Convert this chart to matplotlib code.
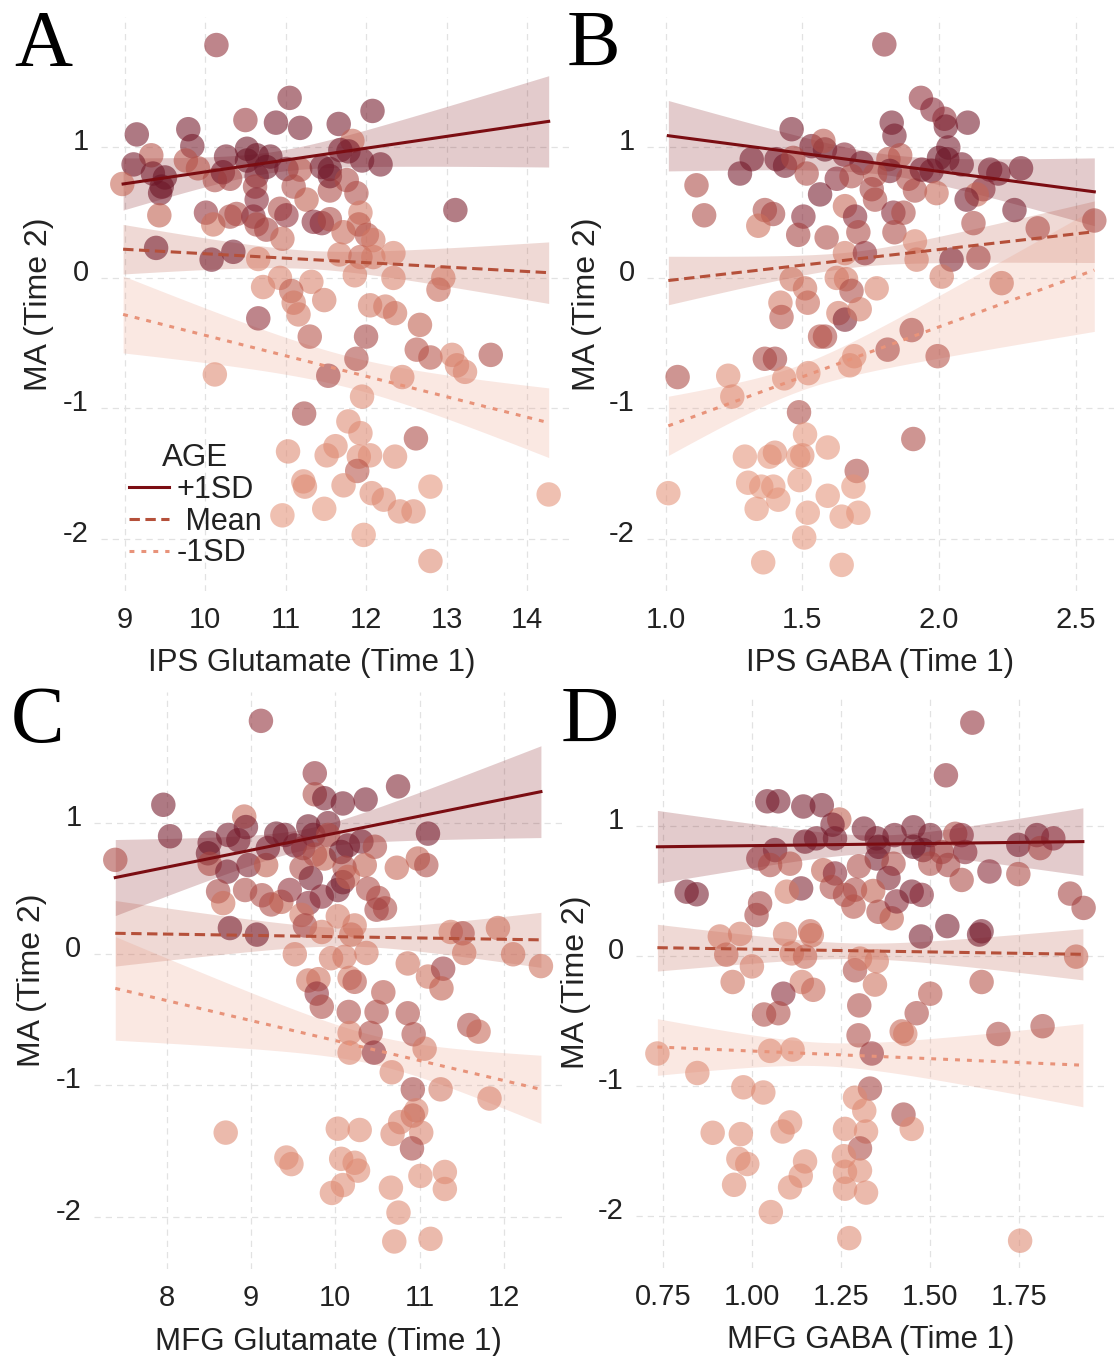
import numpy as np
import matplotlib
matplotlib.use('Agg')
import matplotlib.pyplot as plt
from matplotlib.colors import LinearSegmentedColormap
from matplotlib.lines import Line2D
from matplotlib.transforms import ScaledTranslation

# ---------------- data ----------------
# Panel A: IPS Glutamate (Time 1) vs MA (Time 2); age level 0 (young) .. 1 (old)
A_x = [10.14, 11.05, 12.08, 10.50, 10.88, 11.18, 11.66, 9.15, 9.79, 11.83, 9.33, 9.11, 9.84, 9.76, 9.91,
       10.26, 10.52, 10.64, 10.81, 10.52, 10.76, 11.01, 11.18, 11.45, 11.55, 11.68, 11.78, 11.95, 12.18,
       8.97, 9.35, 9.50, 9.44, 9.46, 9.43, 10.12, 10.22, 10.31, 10.64, 10.62, 10.64, 11.10, 11.26, 11.55,
       11.55, 11.76, 11.88, 11.93, 10.01, 10.10, 10.31, 10.39, 10.60, 10.64, 10.76, 10.93, 11.01, 10.96,
       11.35, 11.45, 11.55, 11.72, 11.91, 12.01, 12.09, 13.11, 9.39, 10.08, 10.35, 10.66, 11.67, 11.93,
       12.09, 12.34, 11.86, 12.34, 12.96, 12.90, 10.72, 10.93, 11.32, 11.07, 11.10, 11.48, 12.05, 12.24,
       12.36, 10.66, 11.16, 12.67, 11.30, 12.63, 12.80, 13.07, 13.13, 13.23, 13.55, 10.12, 11.53, 11.88,
       12.00, 12.45, 11.95, 11.23, 11.78, 11.93, 12.62, 11.03, 11.51, 11.62, 11.91, 12.05, 12.36, 11.89,
       11.22, 11.24, 11.72, 12.80, 12.07, 12.22, 12.42, 12.59, 11.48, 10.96, 11.97, 12.80, 14.27]
A_ma = [1.785, 1.38, 1.28, 1.21, 1.19, 1.15, 1.18, 1.10, 1.14, 1.05, 0.94, 0.87, 1.01, 0.90, 0.84,
        0.93, 0.99, 0.94, 0.93, 0.90, 0.85, 0.835, 0.83, 0.85, 0.835, 0.98, 0.97, 0.90, 0.87,
        0.72, 0.80, 0.77, 0.65, 0.70, 0.48, 0.75, 0.81, 0.76, 0.78, 0.70, 0.60, 0.70, 0.60, 0.67,
        0.78, 0.75, 0.65, 0.50, 0.50, 0.41, 0.47, 0.49, 0.47, 0.41, 0.37, 0.53, 0.48, 0.30,
        0.43, 0.42, 0.45, 0.35, 0.41, 0.33, 0.29, 0.52, 0.23, 0.14, 0.20, 0.145, 0.18, 0.16,
        0.16, 0.19, 0.02, 0.00, 0.00, -0.09, -0.07, 0.00, -0.03, -0.10, -0.19, -0.17, -0.21, -0.22,
        -0.27, -0.31, -0.28, -0.36, -0.45, -0.55, -0.61, -0.59, -0.67, -0.72, -0.59, -0.74, -0.75, -0.62,
        -0.45, -0.76, -0.91, -1.04, -1.10, -1.19, -1.23, -1.33, -1.36, -1.29, -1.37, -1.36, -1.37, -1.48,
        -1.56, -1.60, -1.59, -1.60, -1.65, -1.70, -1.79, -1.79, -1.77, -1.82, -1.97, -2.17, -1.66]
A_age = [0.7, 0.8, 0.85, 0.65, 0.85, 0.85, 0.85, 0.85, 0.85, 0.4, 0.5, 0.85, 0.85, 0.5, 0.5,
         0.85, 0.9, 0.9, 0.9, 0.9, 0.9, 0.85, 0.5, 0.85, 0.9, 0.85, 0.85, 0.85, 0.85,
         0.4, 0.85, 0.9, 0.85, 0.9, 0.45, 0.55, 0.85, 0.6, 0.85, 0.6, 0.75, 0.55, 0.45, 0.55,
         0.85, 0.55, 0.55, 0.3, 0.7, 0.35, 0.55, 0.55, 0.75, 0.55, 0.6, 0.55, 0.7, 0.4,
         0.75, 0.75, 0.55, 0.4, 0.45, 0.5, 0.3, 0.8, 0.85, 0.85, 0.85, 0.25, 0.3, 0.4,
         0.3, 0.25, 0.25, 0.25, 0.3, 0.4, 0.25, 0.25, 0.25, 0.45, 0.3, 0.3, 0.3, 0.3,
         0.35, 0.7, 0.3, 0.45, 0.5, 0.5, 0.5, 0.25, 0.25, 0.25, 0.55, 0.2, 0.6, 0.55,
         0.6, 0.25, 0.2, 0.6, 0.2, 0.2, 0.55, 0.2, 0.2, 0.2, 0.2, 0.2, 0.2, 0.5,
         0.2, 0.2, 0.2, 0.15, 0.2, 0.2, 0.2, 0.2, 0.15, 0.15, 0.15, 0.2, 0.15]

# Panel B: IPS GABA (Time 1)
B_x = [1.80, 1.934, 1.976, 2.02, 2.105, 2.025, 1.827, 1.837, 1.461, 2.034, 2.03, 2.00, 2.083, 1.583, 1.534,
       1.577, 1.654, 1.717, 1.815, 1.858, 1.82, 1.766, 1.315, 1.272, 1.406, 1.437, 1.467, 1.516, 1.626,
       1.68, 1.754, 1.766, 1.888, 1.912, 1.937, 1.973, 1.991, 2.187, 2.217, 2.30, 2.162, 2.138, 2.101,
       1.113, 1.141, 1.565, 1.363, 1.393, 1.339, 1.504, 1.485, 1.589, 1.656, 1.693, 1.705, 1.833, 1.87,
       1.837, 2.126, 2.276, 2.361, 2.568, 1.912, 1.918, 2.046, 2.144, 2.01, 2.229, 1.656, 1.729, 1.626,
       1.66, 1.68, 1.772, 1.461, 1.51, 1.52, 1.42, 1.424, 1.632, 1.656, 1.71, 1.583, 1.565, 1.363, 1.40,
       1.044, 1.229, 1.244, 1.434, 1.522, 1.674, 1.69, 1.812, 1.90, 1.995, 1.488, 1.51, 1.593, 1.29,
       1.38, 1.40, 1.485, 1.50, 1.906, 1.699, 1.687, 1.302, 1.35, 1.394, 1.412, 1.333, 1.49, 1.593,
       1.52, 1.644, 1.705, 1.507, 1.357, 1.644, 1.01]
B_ma = [1.79, 1.38, 1.29, 1.22, 1.19, 1.16, 1.19, 1.09, 1.14, 1.00, 0.91, 0.92, 0.87, 0.985, 1.01,
        1.05, 0.945, 0.88, 0.91, 0.94, 0.82, 0.79, 0.91, 0.80, 0.91, 0.86, 0.92, 0.80, 0.76,
        0.78, 0.68, 0.60, 0.76, 0.67, 0.83, 0.82, 0.65, 0.83, 0.80, 0.84, 0.68, 0.64, 0.60,
        0.71, 0.48, 0.64, 0.52, 0.49, 0.40, 0.47, 0.33, 0.31, 0.55, 0.47, 0.35, 0.50, 0.50,
        0.35, 0.42, 0.52, 0.38, 0.44, 0.28, 0.14, 0.14, 0.155, 0.01, -0.04, 0.19, 0.19, 0.00,
        -0.01, -0.10, -0.08, -0.01, -0.08, -0.19, -0.19, -0.30, -0.27, -0.32, -0.24, -0.45, -0.45, -0.62, -0.62,
        -0.76, -0.75, -0.91, -0.77, -0.73, -0.67, -0.60, -0.55, -0.40, -0.60, -1.03, -1.20, -1.30, -1.37,
        -1.37, -1.34, -1.37, -1.36, -1.235, -1.48, -1.60, -1.57, -1.60, -1.60, -1.70, -1.77, -1.55, -1.67,
        -1.80, -1.83, -1.80, -1.99, -2.18, -2.20, -1.65]
B_age = [0.7, 0.7, 0.75, 0.7, 0.85, 0.85, 0.85, 0.85, 0.85, 0.85, 0.9, 0.9, 0.85, 0.9, 0.85,
         0.5, 0.75, 0.85, 0.5, 0.5, 0.85, 0.5, 0.85, 0.85, 0.85, 0.85, 0.55, 0.55, 0.75,
         0.55, 0.6, 0.55, 0.55, 0.55, 0.85, 0.85, 0.4, 0.85, 0.85, 0.85, 0.75, 0.4, 0.85,
         0.55, 0.55, 0.85, 0.55, 0.6, 0.35, 0.75, 0.6, 0.55, 0.4, 0.75, 0.55, 0.75, 0.55,
         0.55, 0.55, 0.85, 0.55, 0.55, 0.25, 0.3, 0.8, 0.6, 0.3, 0.35, 0.3, 0.7, 0.3,
         0.3, 0.55, 0.25, 0.35, 0.35, 0.4, 0.3, 0.5, 0.3, 0.8, 0.3, 0.55, 0.5, 0.55, 0.6,
         0.55, 0.2, 0.2, 0.2, 0.2, 0.2, 0.2, 0.55, 0.55, 0.5, 0.55, 0.15, 0.15, 0.15,
         0.15, 0.2, 0.15, 0.2, 0.55, 0.55, 0.15, 0.15, 0.15, 0.15, 0.15, 0.15, 0.15, 0.15,
         0.15, 0.15, 0.15, 0.15, 0.15, 0.15, 0.15]

# Panel C: MFG Glutamate (Time 1)
C_x = [9.118, 9.757, 10.745, 7.96, 9.757, 9.87, 10.09, 10.36, 8.92, 8.94, 8.04, 8.73, 8.85, 8.51, 8.49,
       8.51, 8.72, 8.97, 9.18, 9.30, 9.20, 9.40, 9.52, 9.68, 9.74, 9.915, 9.915, 9.62, 9.76, 9.87,
       9.60, 9.71, 10.07, 10.15, 10.31, 10.47, 10.35, 10.11, 10.73, 10.98, 11.10, 11.08, 7.39, 8.61,
       8.67, 8.93, 9.13, 9.24, 9.36, 9.46, 9.68, 9.84, 10.03, 10.09, 10.15, 10.39, 10.51, 10.59, 10.49,
       9.60, 9.64, 10.03, 9.84, 10.23, 10.19, 8.75, 9.07, 11.37, 11.51, 11.93, 11.53, 12.11, 12.44,
       9.52, 9.95, 10.11, 10.37, 9.68, 9.80, 10.17, 10.23, 10.86, 11.10, 11.28, 11.26, 10.57, 9.78,
       9.84, 10.16, 10.49, 10.86, 11.59, 11.70, 10.17, 10.42, 10.93, 11.06, 10.17, 10.46, 10.67, 10.92,
       11.25, 11.83, 10.96, 10.92, 10.77, 10.68, 11.02, 10.91, 8.70, 9.42, 9.48, 10.03, 10.29, 10.07,
       10.23, 10.27, 10.09, 9.96, 10.66, 11.01, 11.30, 11.30, 10.75, 10.70, 11.13]
C_ma = [1.78, 1.38, 1.28, 1.14, 1.22, 1.19, 1.15, 1.18, 1.05, 0.97, 0.90, 0.91, 0.87, 0.85, 0.77,
        0.69, 0.63, 0.68, 0.68, 0.92, 0.81, 0.91, 0.83, 0.975, 0.91, 1.00, 0.91, 0.81, 0.76, 0.73,
        0.66, 0.58, 0.78, 0.83, 0.86, 0.82, 0.68, 0.66, 0.66, 0.73, 0.92, 0.68, 0.72, 0.48,
        0.39, 0.49, 0.45, 0.38, 0.40, 0.49, 0.39, 0.44, 0.49, 0.55, 0.59, 0.50, 0.43, 0.35, 0.34,
        0.30, 0.22, 0.29, 0.17, 0.22, 0.15, 0.20, 0.15, 0.17, 0.16, 0.20, 0.01, 0.00, -0.09,
        0.00, -0.03, -0.02, 0.01, -0.20, -0.19, -0.18, -0.21, -0.07, -0.17, -0.11, -0.26, -0.29, -0.30,
        -0.40, -0.44, -0.44, -0.45, -0.54, -0.59, -0.60, -0.60, -0.61, -0.72, -0.75, -0.75, -0.90, -1.03,
        -1.03, -1.10, -1.19, -1.23, -1.28, -1.37, -1.36, -1.48, -1.36, -1.55, -1.60, -1.33, -1.34, -1.56,
        -1.59, -1.65, -1.76, -1.82, -1.78, -1.69, -1.66, -1.79, -1.97, -2.19, -2.17]
C_age = [0.7, 0.7, 0.8, 0.85, 0.55, 0.85, 0.85, 0.85, 0.4, 0.85, 0.85, 0.85, 0.85, 0.85, 0.9,
         0.55, 0.85, 0.8, 0.45, 0.9, 0.85, 0.85, 0.85, 0.9, 0.85, 0.85, 0.55, 0.7, 0.55, 0.45,
         0.55, 0.85, 0.9, 0.85, 0.85, 0.55, 0.45, 0.55, 0.4, 0.45, 0.85, 0.55, 0.55, 0.6,
         0.35, 0.55, 0.55, 0.55, 0.45, 0.7, 0.75, 0.75, 0.85, 0.85, 0.4, 0.55, 0.55, 0.55, 0.6,
         0.3, 0.6, 0.3, 0.3, 0.3, 0.35, 0.85, 0.85, 0.3, 0.55, 0.35, 0.35, 0.35, 0.35,
         0.3, 0.3, 0.3, 0.3, 0.35, 0.35, 0.3, 0.5, 0.35, 0.35, 0.65, 0.45, 0.5, 0.7,
         0.55, 0.55, 0.55, 0.55, 0.55, 0.4, 0.25, 0.55, 0.55, 0.3, 0.25, 0.7, 0.25, 0.6,
         0.3, 0.25, 0.25, 0.4, 0.25, 0.25, 0.25, 0.6, 0.2, 0.2, 0.2, 0.2, 0.2, 0.2,
         0.2, 0.2, 0.2, 0.2, 0.2, 0.2, 0.2, 0.2, 0.2, 0.2, 0.2]

# Panel D: MFG GABA (Time 1)
D_x = [1.618, 1.544, 1.043, 1.074, 1.144, 1.196, 1.245, 1.226, 1.233, 1.149, 1.18, 1.314, 1.35, 1.40, 1.453,
       1.50, 1.57, 1.588, 1.355, 1.453, 1.48, 1.747, 1.799, 1.808, 1.845, 1.065, 1.018, 1.051, 1.107,
       1.35, 1.397, 1.50, 1.532, 1.598, 1.55, 1.666, 1.747, 1.588, 1.20, 1.233, 1.30, 1.383, 0.817,
       0.845, 1.138, 1.098, 1.023, 1.013, 1.224, 1.261, 1.289, 1.285, 1.34, 1.355, 1.392, 1.406, 1.448,
       1.476, 1.892, 1.93, 1.474, 1.548, 1.644, 1.637, 0.91, 0.967, 0.928, 1.0, 1.093, 1.163, 1.168,
       1.112, 1.149, 1.909, 1.289, 1.35, 1.303, 0.946, 1.14, 1.172, 1.345, 1.50, 1.644, 1.088,
       1.034, 1.074, 1.301, 1.299, 1.336, 1.462, 1.42, 1.43, 1.691, 1.815, 0.735, 0.847, 1.051, 1.114,
       0.976, 1.032, 1.331, 1.289, 1.315, 1.425, 1.448, 0.89, 0.969, 1.086, 1.107, 1.261, 1.32, 1.303,
       0.962, 0.987, 1.149, 1.137, 1.107, 0.95, 1.258, 1.261, 1.303, 1.261, 1.32, 1.053, 1.273, 1.752]
D_ma = [1.795, 1.39, 1.19, 1.19, 1.15, 1.16, 1.05, 1.01, 0.905, 0.88, 0.905, 0.98, 0.905, 0.93, 0.99,
        0.93, 0.94, 0.93, 0.84, 0.84, 0.815, 0.855, 0.93, 0.83, 0.905, 0.815, 0.75, 0.70, 0.71,
        0.75, 0.71, 0.71, 0.80, 0.80, 0.70, 0.65, 0.63, 0.585, 0.66, 0.635, 0.69, 0.60, 0.495,
        0.475, 0.52, 0.495, 0.405, 0.315, 0.53, 0.47, 0.51, 0.38, 0.50, 0.34, 0.29, 0.42, 0.495,
        0.47, 0.48, 0.37, 0.15, 0.23, 0.19, 0.165, 0.15, 0.17, 0.01, -0.08, 0.17, 0.19, 0.16,
        0.02, -0.005, -0.005, -0.11, -0.04, -0.02, -0.20, -0.20, -0.26, -0.22, -0.29, -0.20, -0.29,
        -0.45, -0.44, -0.38, -0.61, -0.75, -0.44, -0.58, -0.60, -0.60, -0.54, -0.75, -0.90, -0.73, -0.72,
        -1.01, -1.05, -1.02, -1.09, -1.19, -1.22, -1.33, -1.36, -1.37, -1.35, -1.28, -1.33, -1.35, -1.48,
        -1.56, -1.60, -1.58, -1.69, -1.78, -1.76, -1.54, -1.66, -1.65, -1.79, -1.82, -1.97, -2.17, -2.19]
D_age = [0.7, 0.7, 0.85, 0.85, 0.85, 0.85, 0.45, 0.85, 0.85, 0.85, 0.85, 0.85, 0.85, 0.85, 0.85,
         0.85, 0.55, 0.75, 0.9, 0.9, 0.9, 0.85, 0.85, 0.6, 0.75, 0.85, 0.7, 0.55, 0.5,
         0.85, 0.55, 0.55, 0.6, 0.75, 0.6, 0.75, 0.55, 0.55, 0.45, 0.75, 0.55, 0.8, 0.85,
         0.85, 0.8, 0.3, 0.6, 0.6, 0.55, 0.55, 0.55, 0.5, 0.45, 0.55, 0.45, 0.75, 0.85,
         0.75, 0.6, 0.6, 0.85, 0.85, 0.85, 0.85, 0.3, 0.3, 0.4, 0.3, 0.3, 0.4, 0.35,
         0.3, 0.4, 0.4, 0.55, 0.3, 0.3, 0.35, 0.3, 0.4, 0.35, 0.5, 0.5, 0.75,
         0.55, 0.55, 0.55, 0.55, 0.65, 0.55, 0.4, 0.3, 0.55, 0.55, 0.2, 0.2, 0.2, 0.2,
         0.2, 0.2, 0.6, 0.2, 0.2, 0.6, 0.2, 0.2, 0.2, 0.2, 0.2, 0.2, 0.2, 0.55,
         0.2, 0.2, 0.2, 0.2, 0.2, 0.2, 0.2, 0.2, 0.2, 0.2, 0.2, 0.2, 0.2, 0.2]

# Simple-slope fits (+1SD, Mean, -1SD): fitted MA at the ends of the x range,
# and half-width of the confidence band at left end, right end and narrowest point
LEVELS = ['+1SD', ' Mean', '-1SD']
A_range = [8.98, 14.27]
A_fit_left = [0.72, 0.22, -0.28]
A_fit_right = [1.20, 0.04, -1.11]
A_ci_left = [0.20, 0.19, 0.295]
A_ci_right = [0.35, 0.236, 0.267]
A_ci_min = [0.08, 0.07, 0.12]

B_range = [1.01, 2.568]
B_fit_left = [1.09, -0.02, -1.134]
B_fit_right = [0.66, 0.354, 0.06]
B_ci_left = [0.27, 0.186, 0.227]
B_ci_right = [0.26, 0.236, 0.47]
B_ci_min = [0.08, 0.06, 0.10]

C_range = [7.39, 12.44]
C_fit_left = [0.585, 0.16, -0.26]
C_fit_right = [1.24, 0.11, -1.03]
C_ci_left = [0.29, 0.25, 0.395]
C_ci_right = [0.35, 0.21, 0.26]
C_ci_min = [0.08, 0.07, 0.11]

D_range = [0.735, 1.928]
D_fit_left = [0.84, 0.064, -0.70]
D_fit_right = [0.88, 0.013, -0.84]
D_ci_left = [0.28, 0.18, 0.218]
D_ci_right = [0.26, 0.197, 0.32]
D_ci_min = [0.07, 0.06, 0.09]

A_xticks = [9, 10, 11, 12, 13, 14]
A_xticklabels = ['9', '10', '11', '12', '13', '14']
B_xticks = [1.0, 1.5, 2.0, 2.5]
B_xticklabels = ['1.0', '1.5', '2.0', '2.5']
C_xticks = [8, 9, 10, 11, 12]
C_xticklabels = ['8', '9', '10', '11', '12']
D_xticks = [0.75, 1.00, 1.25, 1.50, 1.75]
D_xticklabels = ['0.75', '1.00', '1.25', '1.50', '1.75']
Y_ticks = [-2, -1, 0, 1]
Y_ticklabels = ['-2', '-1', '0', '1']

# ---------------- style ----------------
plt.rcParams['font.family'] = ['Liberation Sans', 'DejaVu Sans']
W, H = 1114, 1356
fig = plt.figure(figsize=(W / 100, H / 100), dpi=100)

cmap = LinearSegmentedColormap.from_list(
    'age', [(0.0, '#f7ae90'), (0.45, '#bf5b4b'), (0.75, '#862433'), (1.0, '#5a0a1c')])
LINE_COLORS = ['#7b0d12', '#b5503a', '#e8937a']
LINE_STYLES = ['-', (0, (3.4, 1.8)), (0, (1.6, 2.3))]
TEXT = '#222222'


def half_width(xs, xl, xr, wl, wr, m):
    a = np.sqrt(max(wl ** 2 - m ** 2, 0.0))
    b = np.sqrt(max(wr ** 2 - m ** 2, 0.0))
    k = (a + b) / (xr - xl)
    xc = xl + a / k
    return np.sqrt(m ** 2 + (k * (xs - xc)) ** 2)


def px_axes(x0, x1, y0, y1):
    return fig.add_axes([x0 / W, 1 - y1 / H, (x1 - x0) / W, (y1 - y0) / H])


def panel(box, xlim, gx, ma, age, rng, fl, fr, cl, cr, cm, xticks, xticklabels, xlabel,
          ylab_x, xlab_x=0.5):
    ax = px_axes(*box)
    xs = np.linspace(rng[0], rng[1], 300)
    fits = []
    for i in range(3):
        fit = fl[i] + (fr[i] - fl[i]) * (xs - rng[0]) / (rng[1] - rng[0])
        hw = half_width(xs, rng[0], rng[1], cl[i], cr[i], cm[i])
        ax.fill_between(xs, fit - hw, fit + hw, color=LINE_COLORS[i], alpha=0.21, lw=0, zorder=1)
        fits.append(fit)
    ax.scatter(gx, ma, c=age, cmap=cmap, vmin=0, vmax=1, s=310, alpha=0.58,
               linewidths=0, zorder=2)
    for i in range(3):
        ax.plot(xs, fits[i], color=LINE_COLORS[i], ls=LINE_STYLES[i], lw=2.2, zorder=3)
    ax.set_xlim(*xlim)
    ax.set_ylim(-2.4, 2.0)
    ax.set_xticks(xticks)
    ax.set_xticklabels(xticklabels)
    ax.set_yticks(Y_ticks)
    ax.set_yticklabels(Y_ticklabels)
    for s in ax.spines.values():
        s.set_visible(False)
    ax.tick_params(axis='both', length=0, labelsize=21, labelcolor=TEXT)
    ax.tick_params(axis='x', pad=10.5)
    ax.tick_params(axis='y', pad=9)
    ax.set_axisbelow(True)
    ax.grid(True, color='#e2e2e2', lw=0.9, ls=(0, (5, 4)))
    ax.set_facecolor('none')
    off = ScaledTranslation(0, 0.08, fig.dpi_scale_trans)
    for lab in ax.get_yticklabels():
        lab.set_transform(lab.get_transform() + off)
    ax.set_xlabel(xlabel, fontsize=22.5, color=TEXT)
    ax.set_ylabel('MA (Time 2)', fontsize=23, color=TEXT)
    ax.xaxis.set_label_coords(xlab_x, -0.1)
    ax.yaxis.set_label_coords(ylab_x, 0.5)
    return ax


axA = panel((101, 570, 17, 591), (8.705, 14.535), A_x, A_ma, A_age, A_range, A_fit_left, A_fit_right,
            A_ci_left, A_ci_right, A_ci_min, A_xticks, A_xticklabels, 'IPS Glutamate (Time 1)', -0.1,
            xlab_x=0.45)
axB = panel((647, 1114, 17, 591), (0.932, 2.640), B_x, B_ma, B_age, B_range, B_fit_left, B_fit_right,
            B_ci_left, B_ci_right, B_ci_min, B_xticks, B_xticklabels, 'IPS GABA (Time 1)', -0.097)
axC = panel((94, 562, 692, 1269), (7.1375, 12.69), C_x, C_ma, C_age, C_range, C_fit_left, C_fit_right,
            C_ci_left, C_ci_right, C_ci_min, C_xticks, C_xticklabels, 'MFG Glutamate (Time 1)', -0.1)
axD = panel((636, 1105, 696, 1268), (0.675, 1.99), D_x, D_ma, D_age, D_range, D_fit_left, D_fit_right,
            D_ci_left, D_ci_right, D_ci_min, D_xticks, D_xticklabels, 'MFG GABA (Time 1)', -0.095)

handles = [Line2D([], [], color=LINE_COLORS[i], ls=LINE_STYLES[i], lw=2.2) for i in range(3)]
leg = axA.legend(handles, LEVELS, title='AGE', loc='upper left', bbox_to_anchor=(0.06, 0.258),
                 frameon=False, fontsize=22, title_fontsize=22.5, handlelength=1.3,
                 handletextpad=0.25, labelspacing=0.06, borderpad=0, borderaxespad=0)
for t in leg.get_texts():
    t.set_color(TEXT)
leg.get_title().set_color(TEXT)

for letter, (lx, ly) in zip('ABCD', [(14, 66), (567, 66), (11, 742), (561, 742)]):
    fig.text(lx / W, 1 - ly / H, letter, fontsize=58, family=['Liberation Serif', 'DejaVu Serif'],
             ha='left', va='baseline', color='black')

fig.savefig('out.png', dpi=100)
